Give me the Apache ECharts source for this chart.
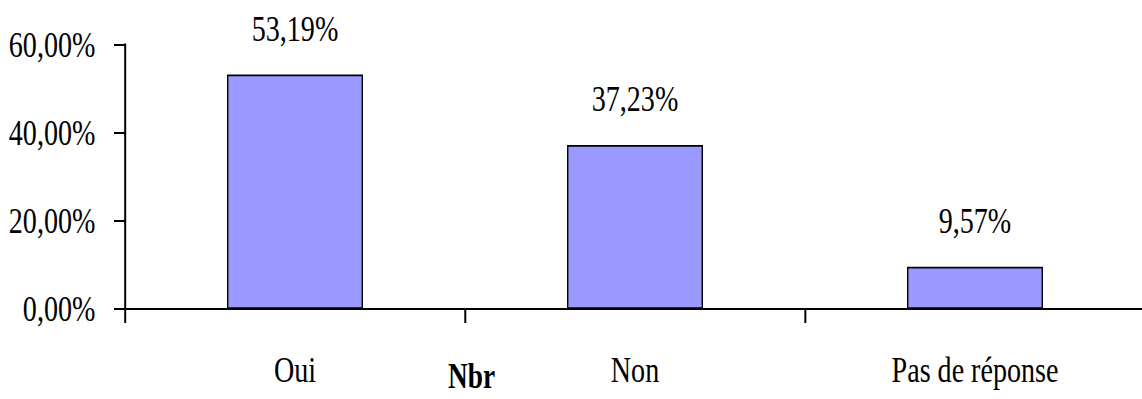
<!DOCTYPE html>
<html>
<head>
<meta charset="utf-8">
<script src="https://cdn.jsdelivr.net/npm/echarts@6/dist/echarts.min.js"></script>
<style>
html, body { margin: 0; padding: 0; background: #ffffff; overflow: hidden; }
#wrap { width: 1142px; height: 399px; overflow: hidden; position: relative; }
#chart { width: 1464px; height: 399px; transform: scaleX(0.78); transform-origin: 0 0; }
</style>
</head>
<body>
<div id="wrap"><div id="chart"></div></div>
<script>
const categories = ['Oui', 'Non', 'Pas de réponse'];
const values = [53.19, 37.23, 9.57];
const yTicks = [0, 20, 40, 60];
const axisTitle = 'Nbr';

const S = 0.78; // horizontal condensation of the whole drawing
const FONT = "'Liberation Serif', 'Times New Roman', serif";
const fmt = v => v.toFixed(2).replace('.', ',') + '%';

const chart = echarts.init(document.getElementById('chart'), null, { renderer: 'svg' });
chart.setOption({
  animation: false,
  backgroundColor: '#ffffff',
  grid: {
    left: 125 / S, width: 1020 / S, top: 44.5, height: 264.5,
    containLabel: false, outerBoundsMode: 'none'
  },
  xAxis: {
    type: 'category',
    data: categories,
    boundaryGap: true,
    name: axisTitle,
    nameLocation: 'middle',
    nameGap: 52,
    nameMoveOverlap: false,
    nameTextStyle: {
      fontFamily: FONT, fontSize: 35, fontWeight: 'bold', color: '#000',
      lineHeight: 30,
      padding: [0, 419, 0, 0]
    },
    axisLine: { show: true, lineStyle: { color: '#000', width: 2 } },
    axisTick: { show: true, alignWithLabel: false, length: 14, lineStyle: { color: '#000', width: 2 / S } },
    axisLabel: { fontFamily: FONT, fontSize: 36, color: '#000', margin: 43, interval: 0 },
    splitLine: { show: false }
  },
  yAxis: {
    type: 'value',
    min: yTicks[0],
    max: yTicks[yTicks.length - 1],
    interval: yTicks[1] - yTicks[0],
    axisLine: { show: true, lineStyle: { color: '#000', width: 2 / S } },
    axisTick: { show: true, length: 11 / S, lineStyle: { color: '#000', width: 2 } },
    axisLabel: { fontFamily: FONT, fontSize: 36, color: '#000', margin: 38, formatter: fmt },
    splitLine: { show: false }
  },
  series: [{
    type: 'bar',
    data: values,
    barWidth: '40%',
    itemStyle: { color: '#9999FF', borderColor: '#000', borderWidth: 1.8 },
    label: {
      show: true, position: 'top', distance: 28,
      fontFamily: FONT, fontSize: 36, color: '#000',
      formatter: p => fmt(p.value)
    }
  }]
});
</script>
</body>
</html>
